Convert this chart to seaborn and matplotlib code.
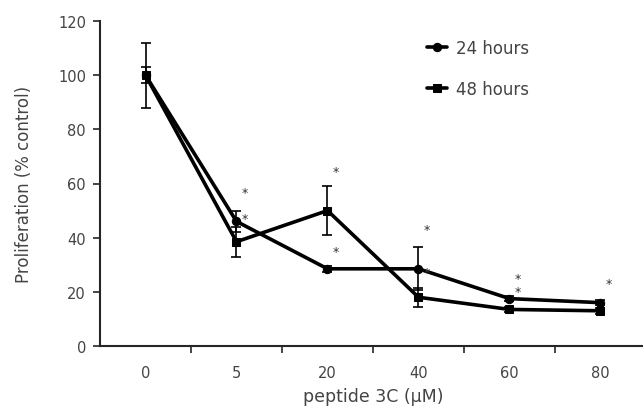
import numpy as np
import pandas as pd
import seaborn as sns
from matplotlib import pyplot as plt

doses = ["0", "5", "20", "40", "60", "80"]
prolif_24h = [100, 46, 28.5, 28.5, 17.5, 16]
prolif_48h = [100, 38.5, 50, 18, 13.5, 13]
err_24h = [12, 4, 1, 8, 1, 1]
err_48h = [3, 5.5, 9, 3.5, 1, 1]

# significance stars: (category index, y value)
star_x = [1, 1, 2, 2, 3, 3, 4, 4, 5]
star_y = [56.5, 47, 64.5, 35, 43, 27.3, 25, 20, 23]

sns.set_style("ticks")
plt.rcParams['font.family'] = ['DejaVu Sans']

idx = np.arange(len(doses))
df = pd.DataFrame({
    "idx": np.concatenate([idx, idx]),
    "value": prolif_24h + prolif_48h,
    "time": ["24 hours"] * len(doses) + ["48 hours"] * len(doses),
})

fig = plt.figure(figsize=(6.43, 4.14), dpi=100)
ax = fig.add_axes([100 / 643, 67 / 414, 546 / 643, 325 / 414])

sns.lineplot(
    data=df, x="idx", y="value", style="time",
    markers={"24 hours": "o", "48 hours": "s"}, dashes=False,
    color="black", linewidth=2.6, markersize=6,
    markeredgecolor="black", ax=ax,
)
ax.errorbar(idx, prolif_24h, yerr=err_24h, fmt="none", ecolor="black",
            elinewidth=1.2, capsize=3.5, capthick=1.2)
ax.errorbar(idx, prolif_48h, yerr=err_48h, fmt="none", ecolor="black",
            elinewidth=1.2, capsize=3.5, capthick=1.2)

for sx, sy in zip(star_x, star_y):
    ax.annotate("*", (sx, sy), xytext=(6, 0), textcoords="offset points",
                ha="center", va="center", fontsize=9, color="#333333")

ax.set_xlim(-0.5, len(doses) - 0.5)
ax.set_ylim(0, 120)
ax.set_yticks(range(0, 121, 20))
ax.set_xticks(idx)
ax.set_xticklabels(doses)
ax.set_xticks(np.arange(0.5, len(doses) - 0.5, 1), minor=True)
ax.tick_params(axis="x", which="major", length=0, pad=14)
ax.tick_params(axis="x", which="minor", length=5, width=1.2, direction="out")
ax.tick_params(axis="y", length=5, width=1.2, direction="out", pad=5)
ax.tick_params(labelsize=10.5, labelcolor="#444444")

for side in ["top", "right"]:
    ax.spines[side].set_visible(False)
for side in ["left", "bottom"]:
    ax.spines[side].set_linewidth(1.5)

ax.set_xlabel("peptide 3C (\u03bcM)", fontsize=12.5, color="#444444", labelpad=5)
ax.set_ylabel("Proliferation (% control)", fontsize=12, color="#444444", labelpad=18)

ax.legend(loc="upper left", bbox_to_anchor=(0.572, 0.992), frameon=False,
          fontsize=12, labelspacing=1.38, handlelength=1.2, handletextpad=0.5,
          labelcolor="#444444")

fig.savefig("out.png", dpi=100)
